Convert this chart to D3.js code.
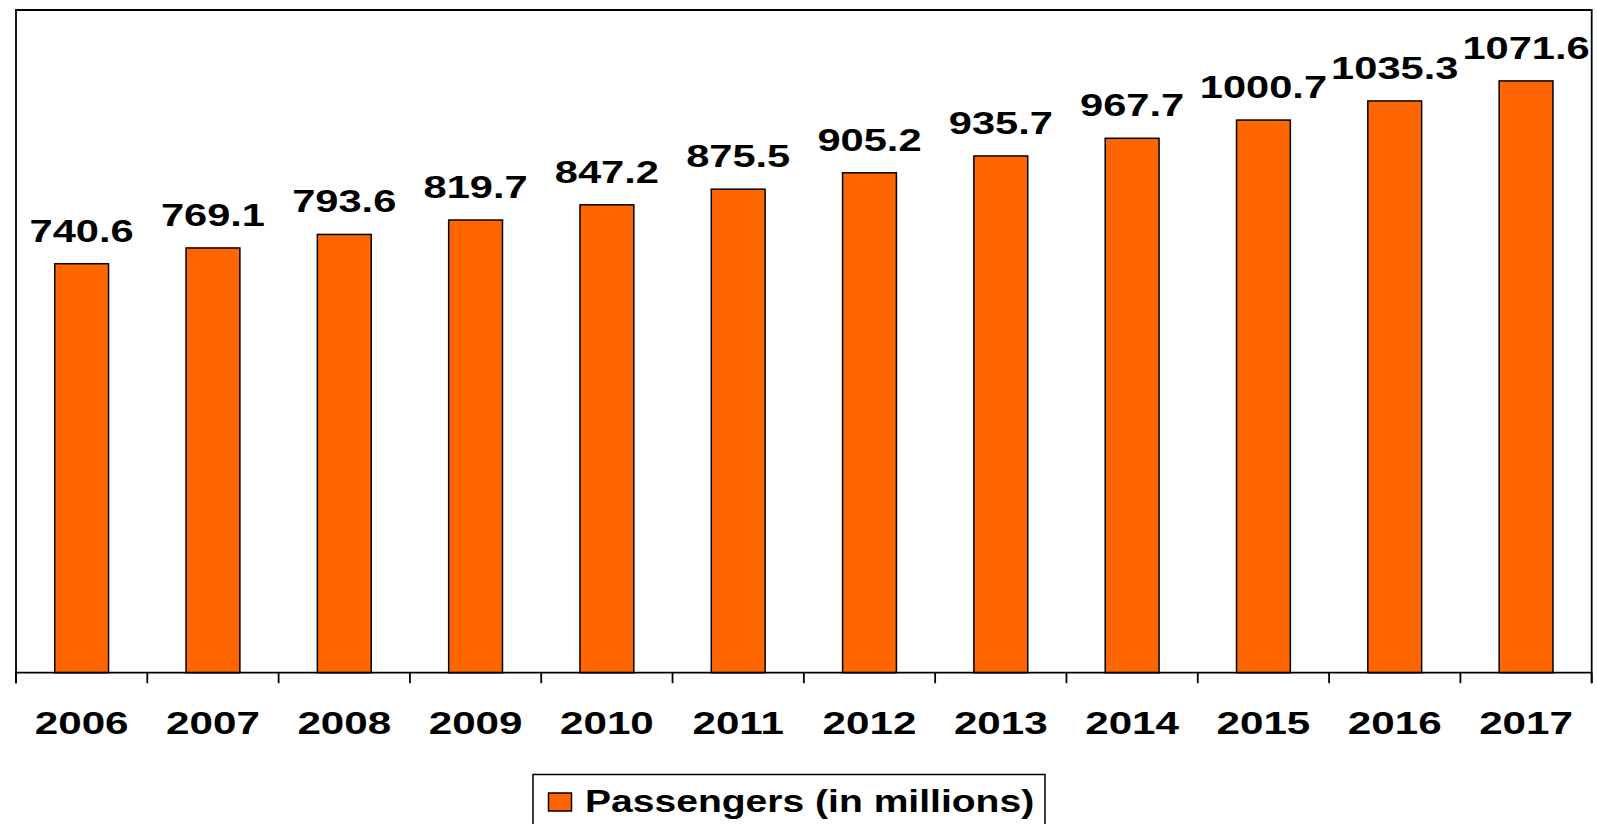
<!DOCTYPE html>
<html>
<head>
<meta charset="utf-8">
<script src="https://cdn.jsdelivr.net/npm/d3@7"></script>
<style>
  html, body { margin: 0; padding: 0; background: #ffffff; }
  svg { display: block; }
  text { font-family: Arial, "Liberation Sans", sans-serif; font-weight: bold; fill: #000; }
</style>
</head>
<body>
<svg id="chart" width="1597" height="824"></svg>
<script>
// ---- data ----
const years = ["2006","2007","2008","2009","2010","2011","2012","2013","2014","2015","2016","2017"];
const passengers = [740.6, 769.1, 793.6, 819.7, 847.2, 875.5, 905.2, 935.7, 967.7, 1000.7, 1035.3, 1071.6];
const seriesName = "Passengers (in millions)";
const yDomain = [0, 1200];

(function () {
const svg = d3.select("#chart");
const pLeft = 16, pRight = 1591.7, pTop = 10, pBase = 672.7;
const ORANGE = "#FF6600";

const x = d3.scaleBand().domain(years).range([pLeft, pRight]).padding(0);
const y = d3.scaleLinear().domain(yDomain).range([pBase, pTop]);
const barW = x.bandwidth() * 0.41;

const data = years.map((yr, i) => ({ year: yr, value: passengers[i] }));

// plot frame
svg.append("path")
  .attr("d", `M${pLeft},${pBase + 10.5} L${pLeft},${pTop} L${pRight},${pTop} L${pRight},${pBase + 10.5}`)
  .attr("fill", "none").attr("stroke", "#000").attr("stroke-width", 1.8);

// bars
svg.append("g").selectAll("rect").data(data).enter().append("rect")
  .attr("x", d => x(d.year) + x.bandwidth() / 2 - barW / 2)
  .attr("y", d => y(d.value))
  .attr("width", barW)
  .attr("height", d => pBase - y(d.value))
  .attr("fill", ORANGE)
  .attr("stroke", "#000")
  .attr("stroke-width", 1.5);

// x axis baseline + ticks
const xAxis = d3.axisBottom(x).tickSize(0).tickFormat("");
const ax = svg.append("g").attr("transform", `translate(0,${pBase})`).call(xAxis);
ax.select(".domain").remove();
ax.append("line").attr("x1", pLeft).attr("x2", pRight).attr("y1", 0).attr("y2", 0)
  .attr("stroke", "#000").attr("stroke-width", 1.8);
const boundaries = years.map(yr => x(yr)).concat([pRight]);
ax.selectAll("line.tk").data(boundaries).enter().append("line").attr("class", "tk")
  .attr("x1", d => d).attr("x2", d => d).attr("y1", 0).attr("y2", 10.5)
  .attr("stroke", "#000").attr("stroke-width", 1.8);

// year labels
svg.append("g").selectAll("text").data(years).enter().append("text")
  .attr("transform", d => `translate(${x(d) + x.bandwidth() / 2},734) scale(1.36,1)`)
  .attr("text-anchor", "middle")
  .style("font-size", "31px")
  .text(d => d);

// value labels
svg.append("g").selectAll("text").data(data).enter().append("text")
  .attr("transform", d => `translate(${x(d.year) + x.bandwidth() / 2},${y(d.value) - 22}) scale(1.3,1)`)
  .attr("text-anchor", "middle")
  .style("font-size", "32px")
  .text(d => d.value.toFixed(1));

// legend
const lg = svg.append("g");
lg.append("rect").attr("x", 533).attr("y", 774.5).attr("width", 512).attr("height", 70)
  .attr("fill", "#fff").attr("stroke", "#000").attr("stroke-width", 1.5);
lg.append("rect").attr("x", 548.5).attr("y", 793).attr("width", 23).attr("height", 18)
  .attr("fill", ORANGE).attr("stroke", "#000").attr("stroke-width", 1.5);
lg.append("text")
  .attr("transform", `translate(585,812) scale(1.26,1)`)
  .attr("text-anchor", "start")
  .style("font-size", "31px")
  .text(seriesName);
})();
</script>
</body>
</html>
